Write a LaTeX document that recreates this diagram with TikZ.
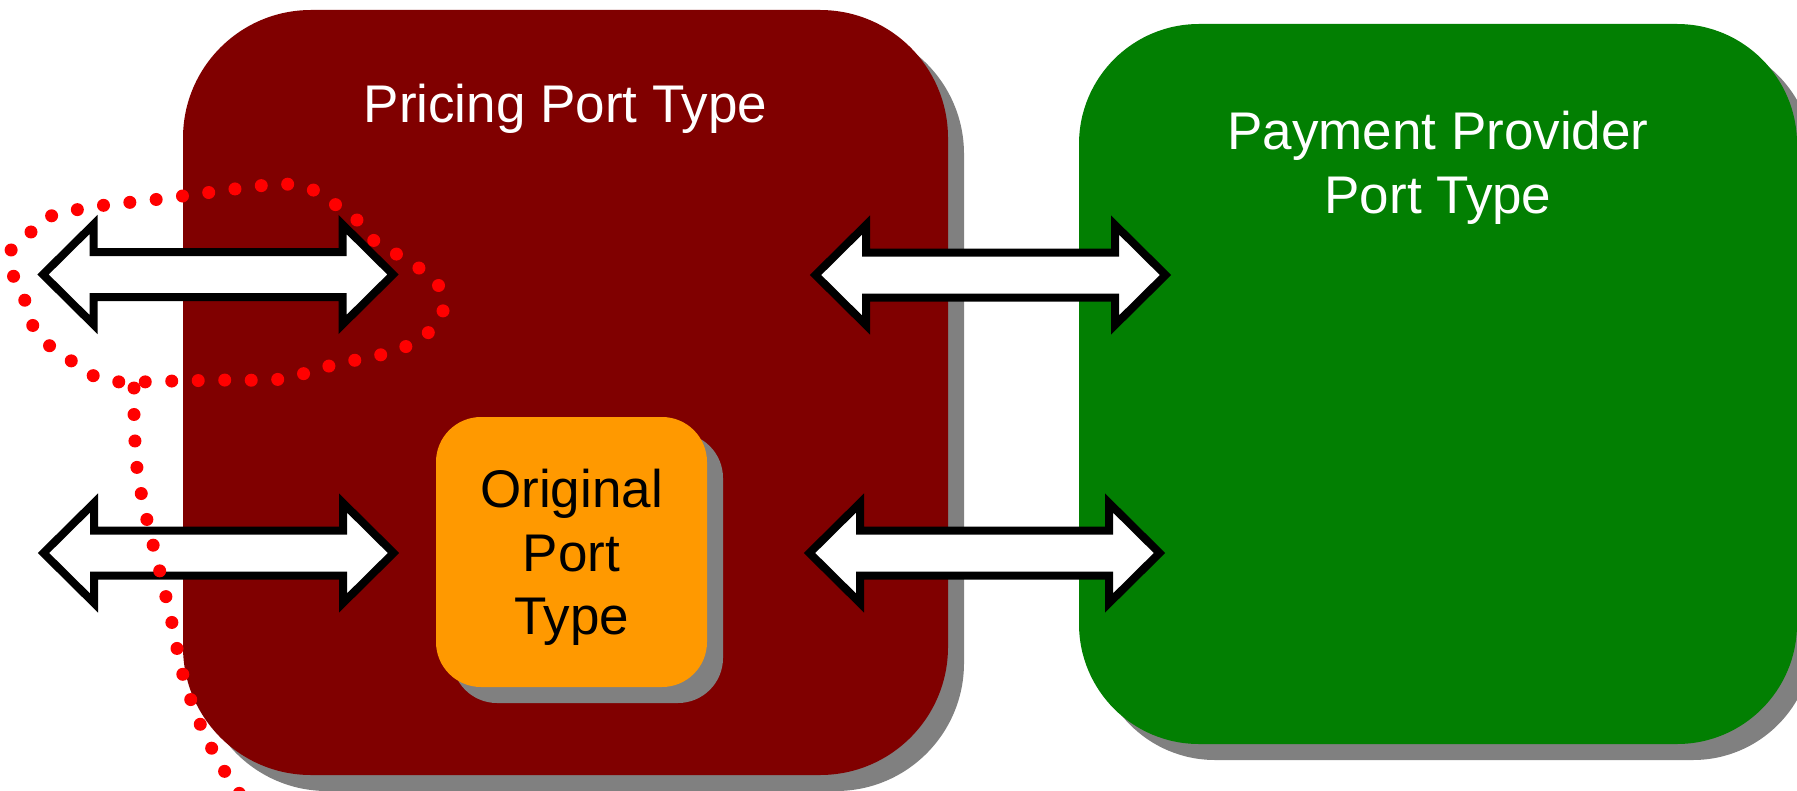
\documentclass[tikz,border=0pt]{standalone}
\usepackage{fontspec}
\setmainfont{Liberation Sans}
\usetikzlibrary{shadows}
\definecolor{boxred}{HTML}{800000}
\definecolor{boxgreen}{HTML}{027F02}
\definecolor{boxorange}{HTML}{FF9900}
\definecolor{shadowgray}{HTML}{808080}
\definecolor{dotred}{HTML}{FF0000}
\tikzset{
  porttype/.style={draw=none, inner sep=0pt, outer sep=0pt,
    drop shadow={shadow xshift=8pt, shadow yshift=-8pt, fill=shadowgray, opacity=1}},
  titletext/.style={text=white, font=\fontsize{26.5}{32}\selectfont, align=center, inner sep=0pt},
  innertext/.style={text=black, font=\fontsize{26.5}{31.75}\selectfont, align=center, inner sep=0pt},
  arrowline/.style={draw=black, fill=white, line width=4pt, line join=miter, miter limit=10},
  dotline/.style={draw=dotred, line width=6.5pt, line cap=round, dash pattern=on 0pt off 13.25pt},
  pics/dblarrow/.style={code={
    \draw[arrowline] (-175,0) -- (-124.5,-50) -- (-124.5,-22.5) -- (124.5,-22.5) -- (124.5,-50)
      -- (175,0) -- (124.5,50) -- (124.5,22.5) -- (-124.5,22.5) -- (-124.5,50) -- cycle;
  }}
}
\begin{document}
\begin{tikzpicture}[x=0.5pt,y=-0.5pt]
\useasboundingbox (0,0) rectangle (1797,791);
% boxes
\node[porttype, fill=boxred, minimum width=382.5pt, minimum height=382.5pt, rounded corners=64pt] (pricing) at (565.5,392.5) {};
\node[porttype, fill=boxgreen, minimum width=359pt, minimum height=360pt, rounded corners=60pt] (payment) at (1438,384) {};
\node[porttype, fill=boxorange, minimum width=135.5pt, minimum height=135pt, rounded corners=22.5pt] (original) at (571.5,552) {};
% texts
\node[titletext, anchor=base] (pricingtitle) at (565.5,123) {Pricing Port Type};
\node[titletext, anchor=north] (paymenttitle) at (1438,111) {Payment Provider\\Port Type};
\node[innertext, anchor=north] (originaltext) at (571.5,469) {Original\\Port\\Type};
% double block arrows
\pic (arrowA) at (218,274.5) {dblarrow};
\pic (arrowB) at (218.5,553) {dblarrow};
\pic (arrowC) at (990.5,275) {dblarrow};
\pic (arrowD) at (984.5,553) {dblarrow};
% dotted red loop and tail
\draw[dotline] plot[smooth, tension=0.55] coordinates {
  (31,232) (51,216) (99,206) (152,200) (205,193) (258,186) (285,184) (311,189) (333,203)
  (355,218) (372,239) (393,252) (416,266) (437,283) (444,307) (431,330) (409,345) (384,354)
  (333,365) (281,379) (228,380) (174,381) (121,382) (96,377) (73,362) (51,347) (34,328)
  (26,303) (14,278) (11,252) (15,227)};
\draw[dotline] plot[smooth, tension=0.6] coordinates {
  (134,388) (134,414) (137,468) (147,520) (160,572) (172,623) (183,675) (201,726) (225,772) (250,808)};
\end{tikzpicture}
\end{document}
